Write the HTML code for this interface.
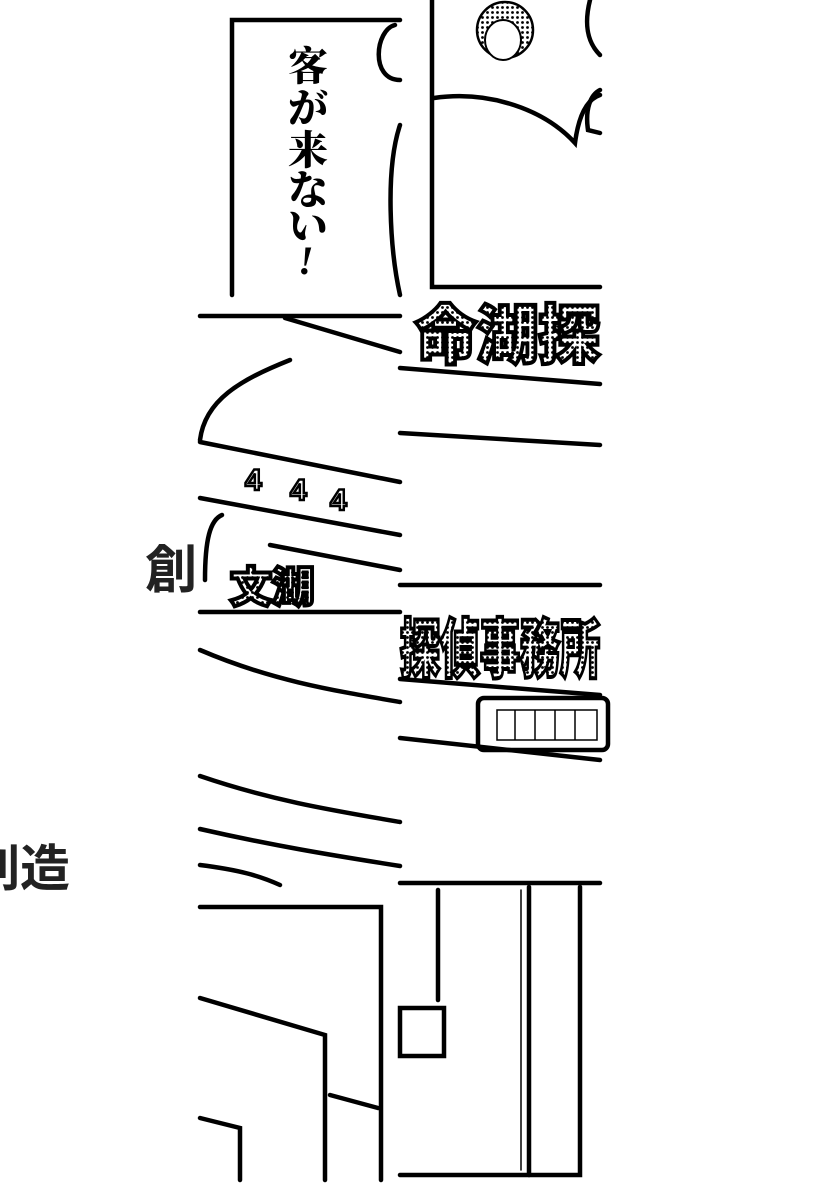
<!DOCTYPE html>
<html><head><meta charset="utf-8"><style>
html,body{margin:0;padding:0;background:#fff;}
svg{display:block;}
</style></head><body>
<svg width="820" height="1200" viewBox="0 0 820 1200" xmlns="http://www.w3.org/2000/svg">
<defs>
<pattern id="dots" width="5" height="5" patternUnits="userSpaceOnUse"><rect width="5" height="5" fill="#fff"/><circle cx="2.5" cy="2.5" r="1.4" fill="#000"/></pattern>
</defs>
<g fill="none" stroke="#000" stroke-width="4.5" stroke-linecap="round">
<path d="M232 295 V20 H400"/>
<path d="M395 25 C375 30 370 80 400 80"/>
<path d="M400 125 C385 170 390 250 400 295"/>
<path d="M432 0 V287 H600"/>
<path d="M434 98 C490 90 545 110 575 143 C578 120 585 100 600 95"/>
<path d="M590 0 C585 20 585 40 600 55"/>
<path d="M600 90 C590 95 585 110 588 130 L600 133"/>
<path d="M200 316 H400"/>
<path d="M285 318 L400 352"/>
<path d="M290 360 C240 380 205 400 200 440"/>
<path d="M200 442 L400 482"/>
<path d="M200 498 L400 535"/>
<path d="M270 545 L400 570"/>
<path d="M205 580 C205 540 210 520 222 515"/>
<path d="M400 368 L600 384"/>
<path d="M400 433 L600 445"/>
<path d="M200 612 H400"/>
<path d="M200 650 C270 680 330 690 400 702"/>
<path d="M200 776 C270 800 330 810 400 822"/>
<path d="M200 829 C270 845 330 855 400 866"/>
<path d="M200 865 C240 870 260 876 280 885"/>
<path d="M400 585 H600"/>
<path d="M400 679 L600 695"/>
<rect x="478" y="698" width="130" height="52" rx="6"/>
<path d="M400 738 L600 760"/>
<path d="M200 907 H381 V1180"/>
<path d="M200 998 L325 1035 V1180"/>
<path d="M330 1095 L378 1108"/>
<path d="M200 1118 L240 1128 V1180"/>
<path d="M400 883 H600"/>
<path d="M580 887 V1175 H400"/>
<path d="M529 887 V1175"/>
<path d="M521 890 V1170" stroke-width="1.5"/>
<path d="M438 890 V1000"/>
<rect x="400" y="1008" width="44" height="48"/>
</g>
<g stroke="#000" stroke-width="1.5" fill="#fff">
<rect x="497" y="710" width="100" height="30"/>
<path d="M515 710V740M535 710V740M555 710V740M575 710V740"/>
</g>
<circle cx="505" cy="30" r="28" fill="url(#dots)" stroke="#000" stroke-width="2.5"/>
<ellipse cx="503" cy="40" rx="18" ry="20" fill="#fff" stroke="#000" stroke-width="2"/>
<g font-family="'Liberation Sans','Noto Sans CJK JP',sans-serif" font-weight="900" fill="url(#dots)" stroke="#000" stroke-width="4" paint-order="fill">
<text x="415" y="358" font-size="64" textLength="185" lengthAdjust="spacingAndGlyphs">命湖探</text>
<text x="400" y="672" font-size="64" textLength="200" lengthAdjust="spacingAndGlyphs">探偵事務所</text>
<text x="230" y="602" font-size="42">文湖</text>
</g>
<g font-family="'Liberation Sans','Noto Sans CJK JP',sans-serif" fill="none" stroke="#000" stroke-width="2.5" font-weight="bold" font-size="30">
<text x="245" y="490">4</text><text x="290" y="500">4</text><text x="330" y="510">4</text>
</g>
<text font-family="'Liberation Serif','Noto Serif CJK SC',serif" font-weight="900" font-size="40" fill="#000">
<tspan x="288" y="80">客</tspan><tspan x="288" y="122">が</tspan><tspan x="288" y="164">来</tspan><tspan x="288" y="204">な</tspan><tspan x="288" y="240">い</tspan>
</text>
<text x="298" y="274" font-family="'Liberation Serif',serif" font-style="italic" font-weight="bold" font-size="40">!</text>
<text x="145" y="588" font-family="'Liberation Sans','Noto Sans CJK JP',sans-serif" font-weight="bold" font-size="52" fill="#222">創</text>
<text x="-30" y="886" font-family="'Liberation Sans','Noto Sans CJK JP',sans-serif" font-weight="bold" font-size="50" fill="#222">創造</text>
</svg>
</body></html>
